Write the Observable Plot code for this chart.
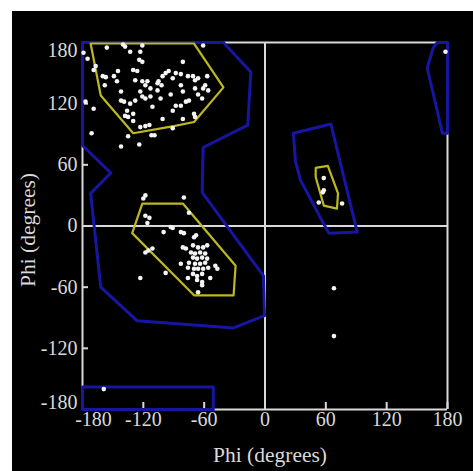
<!DOCTYPE html>
<html>
<head>
<meta charset="utf-8">
<script src="https://cdn.jsdelivr.net/npm/d3@7"></script>
<script src="https://cdn.jsdelivr.net/npm/@observablehq/plot@0.6"></script>
<style>
html, body { margin: 0; padding: 0; background: #ffffff; }
#chart { position: absolute; left: 12px; top: 11px; }
</style>
</head>
<body>
<div id="chart"></div>
<script>
// ---- tick values / labels ----
const xTicks = [-180, -120, -60, 0, 60, 120, 180];
const yTicks = [-180, -120, -60, 0, 60, 120, 180];
const xTitle = "Phi (degrees)";
const yTitle = "Phi (degrees)";

// ---- residues (phi, psi) ----
const residuePhi = [
  -179,-175,-156,-140,-138,-133,-121,-123,-121,-124,-167,-169,-160,-157,-149,-146,-145,-130,-126,-128,
  -121,-118,-113,-116,-158,-123,-106,-142,-177,-169,-142,-139,-133,-128,-121,-118,-113,-111,-136,-138,
  -135,-130,-130,-123,-118,-114,-112,-109,-135,-171,-142,-124,
  -61,-81,-95,-98,-88,-83,-101,-105,-102,-106,-91,-83,-76,-71,-69,-66,-57,-59,-61,-56,-69,-81,-93,
  -75,-78,-66,-62,-103,-88,-83,-91,-101,-81,-70,-69,-91,
  -118,-120,-80,-75,-118,-114,-116,-91,-93,-100,-83,-80,-70,-68,-111,-115,-118,-81,-78,-71,-66,-61,
  -57,-73,-69,-64,-59,-71,-67,-62,-57,-75,-69,-64,-59,-83,-76,-70,-66,-61,-56,-49,-47,-71,-67,-62,
  -98,-123,-76,-54,-67,-62,-62,-66,
  178,58,57,58,53,76,68,68,-159
];
const residuePsi = [
  170,164,175,178,176,171,177,171,161,163,157,153,147,146,147,142,152,153,152,143,
  142,138,135,142,138,132,140,132,122,115,123,122,120,123,127,125,127,117,113,108,
  107,110,103,97,98,99,89,89,88,91,78,80,
  177,161,152,150,150,149,147,142,138,133,145,138,147,147,143,145,147,138,135,133,135,132,129,
  123,122,129,125,125,118,118,113,105,105,110,107,96,
  30,27,28,13,10,8,3,-2,-1,-6,-6,-7,-11,-9,-22,-24,-26,-21,-22,-19,-21,-21,
  -19,-26,-27,-26,-27,-31,-32,-31,-32,-36,-37,-37,-36,-37,-41,-42,-42,-42,-41,-39,-42,-47,-49,-47,
  -46,-51,-51,-51,-53,-55,-58,-65,
  171,47,33,35,23,22,-61,-108,-160
];

// ---- allowed (blue) and favoured (yellow) region outlines, [phi, psi] ----
const allowedBeta = [[-180,180],[-41,180],[-14,151],[-17,99],[-61,77],[-62,33],[-1.5,-49],[-0.5,-88],[-31,-100],[-126,-93],[-162,-60],[-172,32],[-152,52],[-180,79]];
const allowedLeftHelix = [[28,91],[65,100],[91,-6],[63,-7],[58,2],[35,45],[30,64]];
const allowedCorner = [[170,180],[180,180],[180,91],[175,91],[160,155],[166,175]];
const allowedBottom = [[-180,-180],[-51,-180],[-51,-158],[-180,-158]];
const favouredBeta = [[-172,179],[-162,128],[-130,91],[-90,98],[-70,102],[-41,136],[-70,179]];
const favouredAlpha = [[-121,22],[-81,22],[-29,-39],[-31,-68],[-70,-68],[-131,-7]];
const favouredLeft = [[50,57],[62,59],[72,32],[71,17],[58,20],[50,48]];

const toRows = (name, pts) => pts.map(([phi, psi]) => ({region: name, phi, psi}));
const allowedRows = [
  ...toRows("beta", allowedBeta), ...toRows("left", allowedLeftHelix),
  ...toRows("corner", allowedCorner), ...toRows("bottom", allowedBottom)
];
const favouredRows = [
  ...toRows("beta", favouredBeta), ...toRows("alpha", favouredAlpha), ...toRows("left", favouredLeft)
];
const residues = residuePhi.map((phi, i) => ({phi, psi: residuePsi[i]}));

const FG = "#d9d9d9";
const FONT = "Liberation Serif, Times New Roman, serif";
const TICK_FS = 20;
const TITLE_FS = 21.5;

const chart = Plot.plot({
  width: 461,
  height: 460,
  marginLeft: 70,
  marginRight: 26,
  marginTop: 31,
  marginBottom: 62,
  style: {background: "#000000", color: FG, fontFamily: FONT, fontSize: "20px"},
  x: {domain: [-180, 180], axis: null},
  y: {domain: [-180, 180], axis: null},
  marks: [
    // frame and zero cross lines
    Plot.ruleX([-180, 0, 180], {stroke: FG, strokeWidth: 2}),
    Plot.ruleY([-180, 0, 180], {stroke: FG, strokeWidth: 2}),
    // inward ticks
    Plot.axisX(xTicks, {anchor: "bottom", label: null, tickSize: 7, dy: -7, tickFormat: () => "", stroke: FG, strokeWidth: 2}),
    Plot.axisY(yTicks, {anchor: "left", label: null, tickSize: 6, dx: 6, tickFormat: () => "", stroke: FG, strokeWidth: 2}),
    // regions
    Plot.line(allowedRows, {x: "phi", y: "psi", z: "region", curve: "linear-closed", stroke: "#1616a2", strokeWidth: 3, strokeLinejoin: "round"}),
    Plot.line(favouredRows, {x: "phi", y: "psi", z: "region", curve: "linear-closed", stroke: "#bdb820", strokeWidth: 2.2, strokeLinejoin: "round"}),
    // residues
    Plot.dot(residues, {x: "phi", y: "psi", r: 2.3, fill: "#f4f4f4", stroke: null}),
    // tick labels
    Plot.text(xTicks.filter(d => d !== -180), {x: d => d, frameAnchor: "bottom", textAnchor: "middle", lineAnchor: "top", dy: 2, text: d => String(d), fill: FG, fontSize: TICK_FS}),
    Plot.text([-180], {x: d => d, frameAnchor: "bottom", textAnchor: "middle", lineAnchor: "top", dy: 2, dx: 11, text: d => String(d), fill: FG, fontSize: TICK_FS}),
    Plot.text(yTicks.filter(d => Math.abs(d) !== 180), {y: d => d, frameAnchor: "left", textAnchor: "end", lineAnchor: "middle", dx: -5, text: d => String(d), fill: FG, fontSize: TICK_FS}),
    Plot.text([180], {y: d => d, frameAnchor: "left", textAnchor: "end", lineAnchor: "middle", dx: -5, dy: 8, text: d => String(d), fill: FG, fontSize: TICK_FS}),
    Plot.text([-180], {y: d => d, frameAnchor: "left", textAnchor: "end", lineAnchor: "middle", dx: -5, dy: -7, text: d => String(d), fill: FG, fontSize: TICK_FS}),
    // axis titles
    Plot.text([xTitle], {frameAnchor: "bottom", textAnchor: "middle", lineAnchor: "middle", dy: 46, dx: 5, fill: FG, fontSize: TITLE_FS}),
    Plot.text([yTitle], {frameAnchor: "left", textAnchor: "middle", lineAnchor: "middle", rotate: -90, dx: -54, dy: 4, fill: FG, fontSize: TITLE_FS})
  ]
});
document.getElementById("chart").appendChild(chart);
</script>
</body>
</html>
